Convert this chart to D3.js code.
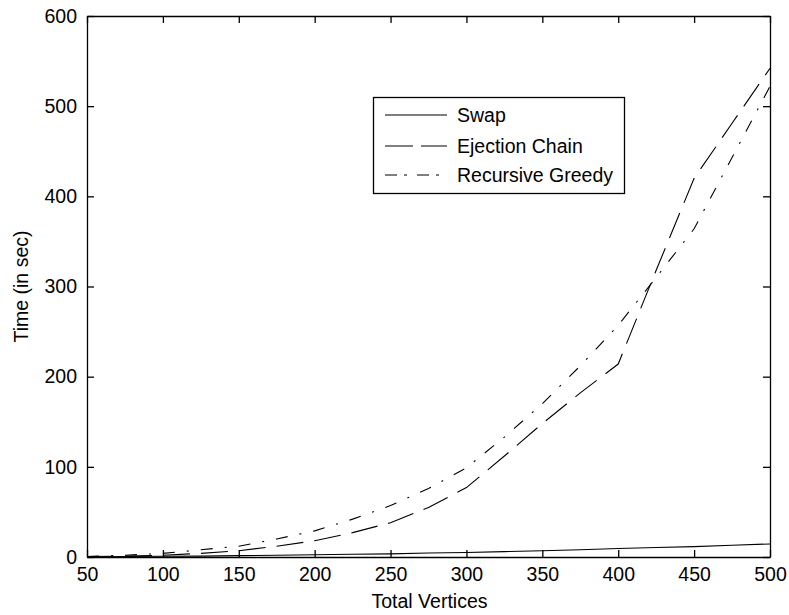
<!DOCTYPE html>
<html>
<head>
<meta charset="utf-8">
<script src="https://cdn.jsdelivr.net/npm/d3@7"></script>
<style>
  html, body { margin: 0; padding: 0; background: #fff; }
  text { font-family: "Liberation Sans", Arial, sans-serif; fill: #000; }
</style>
</head>
<body>
<svg id="chart" width="789" height="615"></svg>
<script>
// Problem size (number of vertices)
const vertices = [50, 75, 100, 125, 150, 175, 200, 225, 250, 275, 300, 325, 350, 375, 400, 425, 450, 475, 500];

// Running times in seconds for each heuristic
const swapTime      = [0, 0.5, 0.8, 1, 1.5, 2, 2.5, 3, 3.5, 4.5, 5, 6, 7, 8, 9.5, 10.5, 11.5, 13, 14.5];
const ejectionTime  = [0.5, 1, 2, 4, 7, 12, 18, 27, 38, 55, 77, 112, 148, 182, 214, 318, 420, 481, 542];
const greedyTime    = [0.5, 2, 4, 8, 12, 20, 29, 42, 57, 76, 99, 133, 170, 212, 257, 310, 364, 443, 522];

const xTicks = [50, 100, 150, 200, 250, 300, 350, 400, 450, 500];
const yTicks = [0, 100, 200, 300, 400, 500, 600];

const seriesNames = ["Swap", "Ejection Chain", "Recursive Greedy"];
const seriesData = [swapTime, ejectionTime, greedyTime];
const dashes = [null, "27,11", "12,12,2,12"];
const legendDashes = [null, "28,8", "12,7,3,10"];

const svg = d3.select("#chart");
const plotLeft = 87, plotRight = 770, plotTop = 16, plotBottom = 557;
const FONT = 19.5;

const x = d3.scaleLinear().domain([50, 500]).range([plotLeft, plotRight]);
const y = d3.scaleLinear().domain([0, 600]).range([plotBottom, plotTop]);

// Series lines
const line = d3.line().x((d, i) => x(vertices[i])).y(d => y(d));
const plot = svg.append("g");
seriesData.forEach((vals, k) => {
  plot.append("path")
    .datum(vals)
    .attr("d", line)
    .attr("fill", "none")
    .attr("stroke", "#000")
    .attr("stroke-width", 1.1)
    .attr("stroke-dasharray", dashes[k]);
});

// Axes box with inward ticks on all four sides
const tickLen = 7;
const axB = d3.axisBottom(x).tickValues(xTicks).tickSizeInner(-tickLen).tickSizeOuter(0).tickPadding(10);
const axT = d3.axisTop(x).tickValues(xTicks).tickSizeInner(-tickLen).tickSizeOuter(0).tickFormat("");
const axL = d3.axisLeft(y).tickValues(yTicks).tickSizeInner(-tickLen).tickSizeOuter(0).tickPadding(10);
const axR = d3.axisRight(y).tickValues(yTicks).tickSizeInner(-tickLen).tickSizeOuter(0).tickFormat("");

function style(g) {
  g.selectAll("path.domain").attr("stroke", "#000").attr("stroke-width", 1.3);
  g.selectAll(".tick line").attr("stroke", "#000").attr("stroke-width", 1.3);
  g.selectAll(".tick text").style("font-family", '"Liberation Sans", Arial, sans-serif')
    .style("font-size", FONT + "px").attr("fill", "#000");
}
svg.append("g").attr("transform", `translate(0,${plotBottom})`).call(axB).call(style);
svg.append("g").attr("transform", `translate(0,${plotTop})`).call(axT).call(style);
svg.append("g").attr("transform", `translate(${plotLeft},0)`).call(axL).call(style);
svg.append("g").attr("transform", `translate(${plotRight},0)`).call(axR).call(style);

// Axis titles
svg.append("text")
  .attr("x", (plotLeft + plotRight) / 2 + 1).attr("y", 608)
  .attr("text-anchor", "middle")
  .style("font-size", FONT + "px")
  .text("Total Vertices");

svg.append("text")
  .attr("transform", `translate(28,${(plotTop + plotBottom) / 2}) rotate(-90)`)
  .attr("text-anchor", "middle")
  .style("font-size", FONT + "px")
  .text("Time (in sec)");

// Legend
const lg = svg.append("g");
lg.append("rect")
  .attr("x", 373.5).attr("y", 97.5).attr("width", 251).attr("height", 96)
  .attr("fill", "#fff").attr("stroke", "#000").attr("stroke-width", 1.3);
const rowY = [115, 146, 175];
seriesNames.forEach((name, k) => {
  lg.append("line")
    .attr("x1", 385).attr("x2", 447)
    .attr("y1", rowY[k]).attr("y2", rowY[k])
    .attr("stroke", "#000").attr("stroke-width", 1.1)
    .attr("stroke-dasharray", legendDashes[k]);
  lg.append("text")
    .attr("x", 457).attr("y", rowY[k] + 7)
    .style("font-size", FONT + "px")
    .text(name);
});
</script>
</body>
</html>
